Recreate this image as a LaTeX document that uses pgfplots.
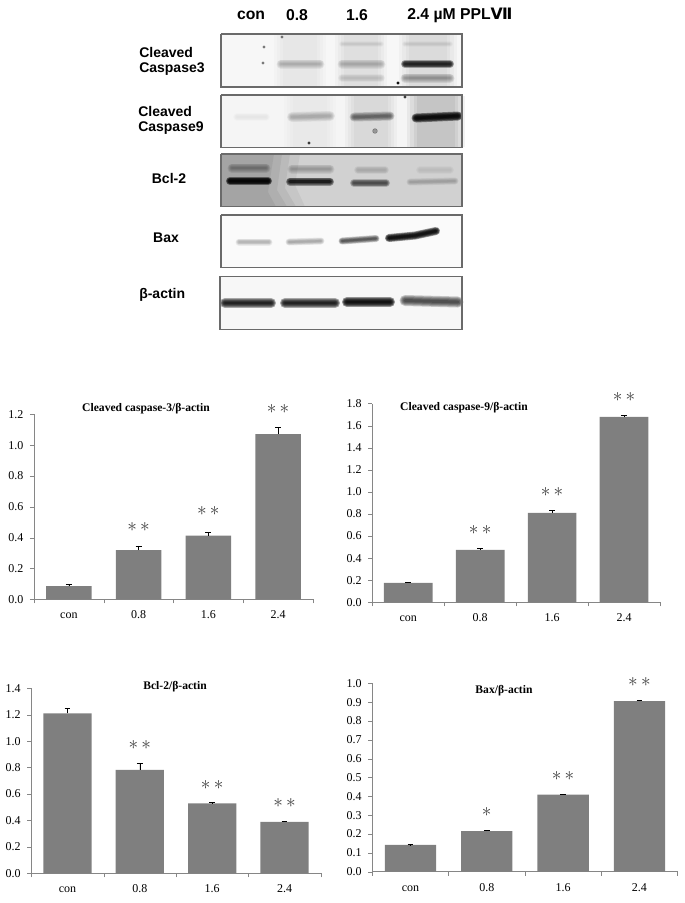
\documentclass[border=0pt]{standalone}
\usepackage{fontspec}
\usepackage{pgfplots}
\pgfplotsset{compat=1.18}
\setmainfont{Liberation Serif}
\newfontfamily\blotfont{Liberation Sans}
\newfontfamily\numeralfont{DejaVu Sans}

\definecolor{barfill}{HTML}{7F7F7F}
\definecolor{axisgray}{HTML}{868686}
\definecolor{frame}{HTML}{6A6A6A}

% 1 reference pixel = 0.75pt
\pgfplotsset{
  chart/.style={
    scale only axis, clip=false,
    xmin=0, xmax=4, ymin=0,
    axis x line=bottom, axis y line=left,
    axis line style={axisgray,-},
    tick align=outside,
    major tick style={axisgray}, minor tick style={axisgray},
    major tick length=3pt, minor tick length=3pt,
    x tick style={draw=none}, minor x tick style={draw=axisgray},
    xtick={0.5,1.5,2.5,3.5}, xticklabels={con,0.8,1.6,2.4},
    minor xtick={0,1,2,3,4},
    xticklabel style={font=\fontsize{9}{9}\selectfont, text height=6pt, text depth=0pt, yshift=-2pt},
    yticklabel style={font=\fontsize{9}{9}\selectfont, xshift=-1.5pt},
    /pgf/number format/assume math mode=true,
    /pgf/number format/fixed, /pgf/number format/fixed zerofill,
    /pgf/number format/precision=1,
    ybar, ybar legend,
  },
  bars/.style={
    fill=barfill, draw=none,
    error bars/.cd, y dir=plus, y explicit,
    error bar style={black, line width=0.5pt},
    error mark options={black, rotate=90, mark size=2.2pt, line width=0.5pt},
  },
  blot/.style={black, line cap=round, forget plot},
}
\newcommand\stars[3]{\node[font=\fontsize{14}{14}\selectfont, text=black!75] at (axis cs:#1,#2) {$#3$};}
% soft band: per-layer opacity, full width in px, then the coordinates
\newcommand\band[3]{%
  \addplot[blot, opacity=#1, line width=#2*0.75pt] coordinates {#3};
  \addplot[blot, opacity=#1, line width=#2*0.62pt] coordinates {#3};
  \addplot[blot, opacity=#1, line width=#2*0.48pt] coordinates {#3};
  \addplot[blot, opacity=#1, line width=#2*0.34pt] coordinates {#3};
  \addplot[blot, opacity=#1, line width=#2*0.20pt] coordinates {#3};
}
% faint lane smear: per-layer opacity, width in px, x, top, bottom
\newcommand\smear[5]{%
  \addplot[black, opacity=#1, line width=#2*0.75pt, forget plot] coordinates {(#3,#4)(#3,#5)};
  \addplot[black, opacity=#1, line width=#2*0.66pt, forget plot] coordinates {(#3,#4)(#3,#5)};
  \addplot[black, opacity=#1, line width=#2*0.57pt, forget plot] coordinates {(#3,#4)(#3,#5)};
  \addplot[black, opacity=#1, line width=#2*0.48pt, forget plot] coordinates {(#3,#4)(#3,#5)};
}

\begin{document}
\begin{tikzpicture}
\path[use as bounding box] (0,0) rectangle (513.75pt,-677.25pt);

% blots, on a hidden axis in pixel coordinates
\begin{axis}[
  at={(0pt,-677.25pt)}, anchor=south west,
  scale only axis, width=513.75pt, height=677.25pt,
  xmin=0, xmax=685, ymin=0, ymax=903, y dir=reverse,
  hide axis, clip=false,
]
% panel 1: cleaved caspase-3
\addplot[fill=black!3, draw=none, forget plot] coordinates {(221,34)(462,34)(462,87)(221,87)(221,34)};
\smear{0.015}{52}{300}{35}{86}
\smear{0.022}{52}{361}{35}{86}
\smear{0.028}{58}{428}{35}{86}
\band{0.02}{6}{(342,44)(381,44)}
\band{0.02}{6}{(405,44)(450,44)}
\band{0.055}{9}{(281,64)(320,64)}
\band{0.055}{9}{(342,64)(381,64)}
\band{0.03}{8}{(342,78)(381,78)}
\band{0.30}{8}{(405,64)(450,64)}
\band{0.08}{9}{(405,78)(450,78)}
\addplot[only marks, mark=*, mark size=0.9pt, black, opacity=0.4, forget plot] coordinates {(263,63)(282,37)(264,47)};
\addplot[only marks, mark=*, mark size=0.9pt, black, forget plot] coordinates {(398,83)};
\addplot[draw=frame, line width=0.9pt, forget plot] coordinates {(221,34)(462,34)(462,87)(221,87)(221,34)};

% panel 2: cleaved caspase-9
\addplot[fill=black!4, draw=none, forget plot] coordinates {(221,95)(462,95)(462,147.7)(221,147.7)(221,95)};
\smear{0.012}{52}{310}{96}{147}
\smear{0.028}{52}{371}{96}{147}
\smear{0.05}{58}{436}{96}{147}
\band{0.012}{8}{(237,117)(266,117)}
\band{0.06}{10}{(292,117)(330,116)}
\band{0.14}{9}{(354,117)(390,116)}
\band{0.42}{9}{(416,118)(458,116)}
\addplot[only marks, mark=*, mark size=1.8pt, black, opacity=0.3, forget plot] coordinates {(375,131)};
\addplot[only marks, mark=*, mark size=1pt, black, opacity=0.6, forget plot] coordinates {(309,143)(405,97)};
\addplot[draw=frame, line width=0.9pt, forget plot] coordinates {(221,95)(462,95)(462,147.7)(221,147.7)(221,95)};

% panel 3: Bcl-2
\addplot[fill=black!18, draw=none, forget plot] coordinates {(221,154)(462,154)(462,206.7)(221,206.7)(221,154)};
\addplot[fill=black, draw=none, opacity=0.05, forget plot] coordinates {(221,154)(300,154)(295,185)(305,206.7)(221,206.7)(221,154)};
\addplot[fill=black, draw=none, opacity=0.06, forget plot] coordinates {(221,154)(290,154)(285,188)(296,206.7)(221,206.7)(221,154)};
\addplot[fill=black, draw=none, opacity=0.06, forget plot] coordinates {(221,154)(282,154)(277,190)(287,206.7)(221,206.7)(221,154)};
\addplot[fill=black, draw=none, opacity=0.06, forget plot] coordinates {(221,154)(274,154)(268,192)(276,206.7)(221,206.7)(221,154)};
\band{0.08}{9}{(232,168)(266,168)}
\band{0.06}{9}{(292,169)(330,169)}
\band{0.04}{8}{(358,170)(385,170)}
\band{0.02}{8}{(420,170)(450,170)}
\band{0.45}{8}{(230,181)(268,181)}
\band{0.32}{8}{(290,181.5)(330,181.5)}
\band{0.18}{8}{(354,183)(386,183)}
\band{0.05}{7}{(410,182)(455,181)}
\addplot[draw=frame, line width=0.9pt, forget plot] coordinates {(221,154)(462,154)(462,206.7)(221,206.7)(221,154)};

% panel 4: Bax
\addplot[fill=black!2, draw=none, forget plot] coordinates {(221,215)(462,215)(462,267.7)(221,267.7)(221,215)};
\band{0.06}{7}{(239,242)(269,242)}
\band{0.07}{7}{(289,242)(321,241)}
\band{0.18}{7}{(342,241)(376,238.5)}
\band{0.40}{8}{(389,238)(415,235.5)(436,231)}
\addplot[draw=frame, line width=0.9pt, forget plot] coordinates {(221,215)(462,215)(462,267.7)(221,267.7)(221,215)};

% panel 5: beta-actin
\addplot[fill=black!3, draw=none, forget plot] coordinates {(220,276.3)(462,276.3)(462,329.3)(220,329.3)(220,276.3)};
\band{0.32}{10}{(225,303)(271,303)}
\band{0.32}{10}{(285,303)(335,303)}
\band{0.40}{10}{(347,302)(390,302)}
\band{0.20}{11}{(405,300.5)(458,302)}
\addplot[draw=frame, line width=0.9pt, forget plot] coordinates {(220,276.3)(462,276.3)(462,329.3)(220,329.3)(220,276.3)};

% blot labels
\begin{scope}[every node/.style={font=\blotfont\bfseries\fontsize{11.8}{11.8}\selectfont, inner sep=0pt}]
\node at (axis cs:251,15) {con};
\node at (axis cs:297,15) {0.8};
\node at (axis cs:357,15) {1.6};
\node[anchor=west] at (axis cs:407,15) {2.4 µM PPL{\numeralfont\bfseries Ⅶ}};
\end{scope}
\begin{scope}[every node/.style={font=\blotfont\bfseries\fontsize{10.5}{10.5}\selectfont, inner sep=0pt}]
\node[anchor=west] at (axis cs:139,52) {Cleaved};
\node[anchor=west] at (axis cs:139,69) {Caspase3};
\node[anchor=west] at (axis cs:138,111) {Cleaved};
\node[anchor=west] at (axis cs:138,128) {Caspase9};
\node at (axis cs:169,178) {Bcl-2};
\node at (axis cs:166,238) {Bax};
\node[anchor=west] at (axis cs:139,295) {β-actin};
\end{scope}

% chart titles
\begin{scope}[every node/.style={font=\bfseries\fontsize{8.7}{8.7}\selectfont, inner sep=0pt}]
\node at (axis cs:146,409) {Cleaved caspase-3/β-actin};
\node at (axis cs:464,407.7) {Cleaved caspase-9/β-actin};
\node at (axis cs:175,687) {Bcl-2/β-actin};
\node at (axis cs:504,690.7) {Bax/β-actin};
\end{scope}
\end{axis}

% cleaved caspase-3
\begin{axis}[chart, at={(25.5pt,-449.5pt)}, anchor=south west,
  width=209.25pt, height=138.75pt, ymax=1.2, ytick={0,0.2,...,1.2}, bar width=34pt]
\addplot[bars] coordinates {
  (0.5,0.086) +- (0,0.011)
  (1.5,0.320) +- (0,0.026)
  (2.5,0.413) +- (0,0.022)
  (3.5,1.072) +- (0,0.041)
};
\stars{1.5}{0.467}{\ast\,\ast}
\stars{2.5}{0.571}{\ast\,\ast}
\stars{3.5}{1.237}{\ast\,\ast}
\end{axis}

% cleaved caspase-9
\begin{axis}[chart, at={(279.2pt,-451.7pt)}, anchor=south west,
  width=215.8pt, height=149pt, ymax=1.8, ytick={0,0.2,...,1.8}, bar width=36.5pt]
\addplot[bars] coordinates {
  (0.5,0.175) +- (0,0.006)
  (1.5,0.474) +- (0,0.015)
  (2.5,0.810) +- (0,0.024)
  (3.5,1.680) +- (0,0.015)
};
\stars{1.5}{0.659}{\ast\,\ast}
\stars{2.5}{1.003}{\ast\,\ast}
\stars{3.5}{1.864}{\ast\,\ast}
\end{axis}

% Bcl-2
\begin{axis}[chart, at={(23.5pt,-655pt)}, anchor=south west,
  width=217pt, height=138.75pt, ymax=1.4, ytick={0,0.2,...,1.4}, bar width=36.2pt]
\addplot[bars] coordinates {
  (0.5,1.210) +- (0,0.040)
  (1.5,0.783) +- (0,0.050)
  (2.5,0.530) +- (0,0.005)
  (3.5,0.389) +- (0,0.005)
};
\stars{1.5}{0.972}{\ast\,\ast}
\stars{2.5}{0.672}{\ast\,\ast}
\stars{3.5}{0.533}{\ast\,\ast}
\end{axis}

% Bax
\begin{axis}[chart, at={(279.2pt,-653.8pt)}, anchor=south west,
  width=229pt, height=141.3pt, ymax=1.0, ytick={0,0.1,...,1.0}, bar width=38.5pt]
\addplot[bars] coordinates {
  (0.5,0.142) +- (0,0.002)
  (1.5,0.216) +- (0,0.003)
  (2.5,0.409) +- (0,0.003)
  (3.5,0.906) +- (0,0.004)
};
\stars{1.5}{0.319}{\ast}
\stars{2.5}{0.508}{\ast\,\ast}
\stars{3.5}{1.005}{\ast\,\ast}
\end{axis}
\end{tikzpicture}
\end{document}
